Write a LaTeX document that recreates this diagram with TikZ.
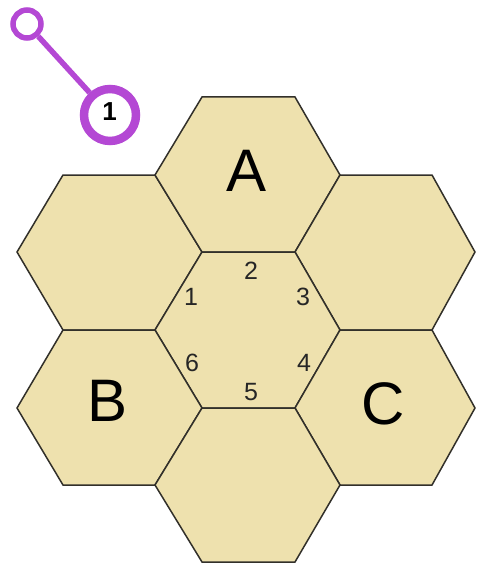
\documentclass[tikz,border=0pt]{standalone}
\usepackage{fontspec}
\setmainfont{Liberation Sans}
\definecolor{hexfill}{RGB}{238,225,174}
\definecolor{hexline}{RGB}{50,48,42}
\definecolor{purp}{RGB}{180,72,212}
\tikzset{
  hexcell/.style={fill=hexfill, draw=hexline, line width=1.5pt, line join=miter},
  biglabel/.style={font=\fontsize{60}{60}\selectfont, text=black, inner sep=0pt},
  numlabel/.style={font=\fontsize{25}{25}\selectfont, text=black!85, inner sep=0pt},
  pin/.style={circle, draw=purp, fill=white, inner sep=0pt},
}
% \hexpoly{x1}{x2}{x3}{x4}{ytop}{ymid}{ybot}
\newcommand{\hexpoly}[7]{%
  \path[hexcell] (#1,#6) -- (#2,#5) -- (#3,#5) -- (#4,#6) -- (#3,#7) -- (#2,#7) -- cycle;}
\begin{document}
\begin{tikzpicture}[x=1pt,y=-1pt]
\useasboundingbox (0,0) rectangle (478,567);
% hexagons
\hexpoly{17}{63}{155}{202}{175}{252}{330}   % upper left
\hexpoly{155}{202}{295}{340}{97}{175}{252}  % A
\hexpoly{295}{340}{432}{475}{175}{252}{330} % upper right
\hexpoly{155}{202}{295}{340}{252}{330}{408} % centre
\hexpoly{17}{63}{155}{202}{330}{408}{485}   % B
\hexpoly{295}{340}{432}{475}{330}{408}{485} % C
\hexpoly{155}{202}{295}{340}{408}{485}{562} % bottom
% letters
\node[biglabel] (lA) at (247,171) {A};
\node[biglabel] (lB) at (108,401) {B};
\node[biglabel] (lC) at (383,404) {C};
% edge numbers
\node[numlabel] (n1) at (191,297) {1};
\node[numlabel] (n2) at (251,271) {2};
\node[numlabel] (n3) at (303,297) {3};
\node[numlabel] (n4) at (304,363) {4};
\node[numlabel] (n5) at (251,392) {5};
\node[numlabel] (n6) at (192,363) {6};
% purple marker
\node[pin, line width=5.5pt, minimum size=28pt] (s) at (27,24) {};
\node[pin, line width=8.5pt, minimum size=52pt] (b) at (110,115) {};
\draw[purp, line width=5.5pt] (s) -- (b);
\node[font=\bfseries\fontsize{26}{26}\selectfont, inner sep=0pt] (bn) at (109.5,112) {1};
\end{tikzpicture}
\end{document}
